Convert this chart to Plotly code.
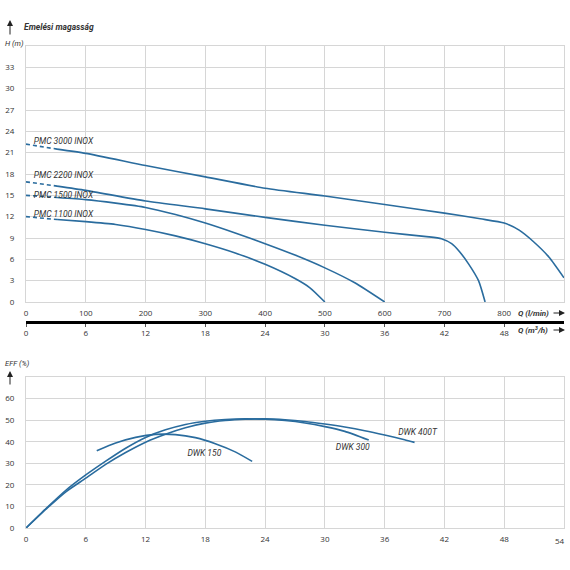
import plotly.graph_objects as go

# ---------------- data ----------------
# Top chart: H (m) vs Q (l/min)
pump_names = ["PMC 3000 INOX", "PMC 2200 INOX", "PMC 1500 INOX", "PMC 1100 INOX"]

pmc3000_q_dash = [0, 52]
pmc3000_h_dash = [22.2, 21.5]
pmc3000_q = [52, 100, 200, 300, 400, 500, 600, 700, 760, 800, 825, 850, 875, 900]
pmc3000_h = [21.5, 20.9, 19.2, 17.6, 16.0, 14.9, 13.7, 12.5, 11.7, 11.1, 10.1, 8.4, 6.3, 3.4]

pmc2200_q_dash = [0, 52]
pmc2200_h_dash = [16.9, 16.3]
pmc2200_q = [52, 100, 200, 300, 400, 500, 600, 670, 695, 712, 725, 740, 757, 768]
pmc2200_h = [16.3, 15.7, 14.2, 13.1, 11.9, 10.8, 9.8, 9.2, 8.9, 8.2, 7.1, 5.4, 3.0, 0.0]

pmc1500_q_dash = [0, 52]
pmc1500_h_dash = [15.0, 14.7]
pmc1500_q = [52, 100, 150, 200, 250, 300, 350, 400, 450, 500, 550, 600]
pmc1500_h = [14.7, 14.4, 13.9, 13.3, 12.3, 11.1, 9.7, 8.2, 6.6, 4.8, 2.7, 0.0]

pmc1100_q_dash = [0, 52]
pmc1100_h_dash = [12.0, 11.6]
pmc1100_q = [52, 100, 150, 200, 250, 300, 350, 400, 450, 475, 500]
pmc1100_h = [11.6, 11.3, 10.9, 10.2, 9.3, 8.2, 6.9, 5.3, 3.3, 2.0, 0.0]

# label positions (Q l/min, H m)
pump_label_q = [13, 13, 13, 13]
pump_label_h = [22.5, 17.8, 14.9, 12.2]

h_ticks = [0, 3, 6, 9, 12, 15, 18, 21, 24, 27, 30, 33]
q_lmin_ticks = [0, 100, 200, 300, 400, 500, 600, 700, 800]
q_m3h_ticks = [0, 6, 12, 18, 24, 30, 36, 42, 48]

# Bottom chart: EFF (%) vs Q (m3/h)
dwk150_q = [7.1, 9.0, 11.0, 13.0, 15.0, 17.0, 19.0, 21.0, 22.7]
dwk150_e = [35.8, 39.4, 42.0, 43.4, 43.3, 41.9, 39.1, 35.3, 30.9]

dwk300_q = [0, 2, 4, 6, 8, 10, 12, 14, 16, 18, 20, 22, 24, 26, 28, 30, 32, 34.4]
dwk300_e = [0, 9.0, 17.5, 24.6, 31.0, 37.0, 42.0, 45.5, 48.0, 49.5, 50.3, 50.6, 50.4, 49.8, 48.7, 47.0, 44.8, 40.8]

dwk400_q = [0, 2, 4, 6, 8, 10, 12, 14, 16, 18, 20, 22, 24, 26, 28, 30, 32, 34, 36, 38, 39]
dwk400_e = [0, 8.7, 16.8, 23.1, 29.5, 35.0, 39.8, 43.5, 46.5, 48.6, 49.8, 50.4, 50.6, 50.2, 49.4, 48.2, 46.8, 45.1, 43.1, 40.9, 39.7]

dwk_names = ["DWK 150", "DWK 300", "DWK 400T"]
dwk_label_q = [17.9, 32.8, 39.3]
dwk_label_e = [34.4, 37.2, 43.9]

eff_ticks = [0, 10, 20, 30, 40, 50, 60]
q_bottom_ticks = [0, 6, 12, 18, 24, 30, 36, 42, 48]
q_bottom_last = 54

# ---------------- styling ----------------
BLUE = "#2a6c9e"
GRID = "#d6d6d6"
TXT = "#333333"
FONT = "Open Sans"
LFONT = "Roboto"
W, H = 570, 570
ML, MR = 26, 6


def py(pix):
    return 1 - pix / H


def px(pix):
    return (pix - ML) / (W - ML - MR)


fig = go.Figure()

line = dict(color=BLUE, width=1.6, shape="spline", smoothing=0.6)
dline = dict(color=BLUE, width=1.6, dash="4px,3px")

for qd, hd, q, h in [
    (pmc3000_q_dash, pmc3000_h_dash, pmc3000_q, pmc3000_h),
    (pmc2200_q_dash, pmc2200_h_dash, pmc2200_q, pmc2200_h),
    (pmc1500_q_dash, pmc1500_h_dash, pmc1500_q, pmc1500_h),
    (pmc1100_q_dash, pmc1100_h_dash, pmc1100_q, pmc1100_h),
]:
    fig.add_trace(go.Scatter(x=qd, y=hd, mode="lines", line=dline, xaxis="x", yaxis="y",
                             showlegend=False, hoverinfo="skip"))
    fig.add_trace(go.Scatter(x=q, y=h, mode="lines", line=line, xaxis="x", yaxis="y",
                             showlegend=False))

fig.add_trace(go.Scatter(x=pump_label_q, y=pump_label_h, mode="text", text=pump_names,
                         textposition="middle right",
                         textfont=dict(family=LFONT, size=8.5, color=TXT, style="italic"),
                         xaxis="x", yaxis="y", showlegend=False, hoverinfo="skip"))

for q, e in [(dwk150_q, dwk150_e), (dwk300_q, dwk300_e), (dwk400_q, dwk400_e)]:
    fig.add_trace(go.Scatter(x=q, y=e, mode="lines", line=line, xaxis="x2", yaxis="y2",
                             showlegend=False))

fig.add_trace(go.Scatter(x=dwk_label_q, y=dwk_label_e, mode="text", text=dwk_names,
                         textposition="middle center",
                         textfont=dict(family=LFONT, size=8.5, color=TXT, style="italic"),
                         xaxis="x2", yaxis="y2", showlegend=False, hoverinfo="skip"))

# dummy trace to activate the m3/h axis
fig.add_trace(go.Scatter(x=[0, 54], y=[None, None], mode="lines", xaxis="x3", yaxis="y",
                         showlegend=False, hoverinfo="skip"))

tickfont = dict(family=FONT, size=8, color=TXT)
common_x = dict(showgrid=True, gridcolor=GRID, gridwidth=1, zeroline=False,
                showline=True, linecolor=GRID, linewidth=1, mirror=True,
                ticks="outside", ticklen=3, tickcolor="rgba(0,0,0,0)",
                tickfont=tickfont, automargin=False)
common_y = dict(showgrid=True, gridcolor=GRID, gridwidth=1, zeroline=False,
                showline=True, linecolor=GRID, linewidth=1, mirror=True,
                ticks="outside", ticklen=9, tickcolor="rgba(0,0,0,0)", tickfont=tickfont,
                automargin=False)

fig.update_layout(
    width=W, height=H,
    margin=dict(l=ML, r=MR, t=0, b=0, autoexpand=False),
    paper_bgcolor="white", plot_bgcolor="white",
    font=dict(family=FONT, color=TXT),
    xaxis=dict(domain=[0, 1], range=[0, 900], tickvals=q_lmin_ticks, anchor="y", **common_x),
    yaxis=dict(domain=[py(302), py(46)], range=[0, 36], tickvals=h_ticks, anchor="x", **common_y),
    xaxis2=dict(domain=[0, 1], range=[0, 54], tickvals=q_bottom_ticks, anchor="y2", **common_x),
    yaxis2=dict(domain=[py(528), py(377)], range=[0, 70], tickvals=eff_ticks, anchor="x2", **common_y),
    xaxis3=dict(overlaying="x", anchor="free", position=py(322), side="bottom",
                range=[0, 54], tickvals=q_m3h_ticks, showgrid=False, zeroline=False,
                showline=True, linecolor="black", linewidth=2.5,
                ticks="outside", ticklen=3, tickcolor="#555", tickwidth=1,
                tickfont=tickfont, automargin=False),
)

ann_font = dict(family=LFONT, size=8, color=TXT, style="italic")
annotations = [
    dict(x=px(22), y=py(27), xref="paper", yref="paper", text="<b>Emelési magasság</b>",
         showarrow=False, xanchor="left", yanchor="middle",
         font=dict(family=LFONT, size=8.5, color=TXT, style="italic")),
    dict(x=px(3), y=py(43), xref="paper", yref="paper", text="H (m)",
         showarrow=False, xanchor="left", yanchor="middle",
         font=dict(family=LFONT, size=7.5, color=TXT, style="italic")),
    dict(x=px(10), y=py(20), xref="paper", yref="paper", ax=0, ay=16, text="",
         showarrow=True, arrowhead=2, arrowsize=1.2, arrowwidth=1, arrowcolor="#222"),
    dict(x=px(516), y=py(313), xref="paper", yref="paper", text="<b>Q (l/min)</b>",
         showarrow=False, xanchor="left", yanchor="middle", font=ann_font),
    dict(x=px(565), y=py(313), xref="paper", yref="paper", ax=-13, ay=0, text="",
         showarrow=True, arrowhead=2, arrowsize=1.2, arrowwidth=1, arrowcolor="#222"),
    dict(x=px(516), y=py(330), xref="paper", yref="paper", text="<b>Q (m<sup>3</sup>/h)</b>",
         showarrow=False, xanchor="left", yanchor="middle", font=ann_font),
    dict(x=px(565), y=py(330), xref="paper", yref="paper", ax=-13, ay=0, text="",
         showarrow=True, arrowhead=2, arrowsize=1.2, arrowwidth=1, arrowcolor="#222"),
    dict(x=px(3), y=py(363), xref="paper", yref="paper", text="EFF (%)",
         showarrow=False, xanchor="left", yanchor="middle",
         font=dict(family=LFONT, size=7.5, color=TXT, style="italic")),
    dict(x=px(10), y=py(371), xref="paper", yref="paper", ax=0, ay=15, text="",
         showarrow=True, arrowhead=2, arrowsize=1.2, arrowwidth=1, arrowcolor="#222"),
    dict(x=q_bottom_last, y=py(540.5), xref="x2", yref="paper", xshift=3,
         text=str(q_bottom_last), showarrow=False, xanchor="right", yanchor="middle",
         font=tickfont),
]
fig.update_layout(annotations=annotations)

fig.write_html(
    "out.html",
    config={"displayModeBar": False},
    post_script="document.body.style.margin='0';document.body.style.padding='0';"
                "document.documentElement.style.overflow='hidden';",
)
